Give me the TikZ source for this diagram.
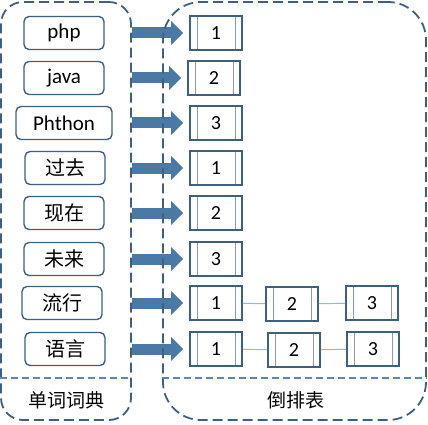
\documentclass[tikz,border=0pt]{standalone}
\usepackage{fontspec}
\setmainfont{Carlito}
\newfontfamily\cjk{Noto Sans CJK SC}
\usetikzlibrary{arrows.meta,backgrounds}

\definecolor{frameblue}{HTML}{3E5F7E}
\definecolor{arrowblue}{HTML}{4A79A5}
\definecolor{sepblue}{HTML}{5A86B4}
\definecolor{linkblue}{HTML}{9AB7D3}
\definecolor{innergrey}{HTML}{8A9BAE}

\tikzset{
  container/.style={draw=frameblue, line width=1.8pt, dash pattern=on 10pt off 5pt, rounded corners=#1},
  wordbox/.style={draw=frameblue, line width=1.4pt, rounded corners=5pt, minimum width=80pt,
    minimum height=33pt, inner sep=0pt, font=\fontsize{21}{23}\selectfont},
  cjkword/.style={wordbox, font=\cjk\fontsize{20}{22}\selectfont},
  numbox/.style={draw=frameblue, line width=1.6pt, minimum width=52pt, minimum height=34pt,
    inner sep=0pt, font=\fontsize{20}{22}\selectfont,
    path picture={
      \draw[innergrey, line width=1pt] ([xshift=7pt]path picture bounding box.south west) -- ([xshift=7pt]path picture bounding box.north west);
      \draw[innergrey, line width=1pt] ([xshift=-7pt]path picture bounding box.south east) -- ([xshift=-7pt]path picture bounding box.north east);
    }},
  bigarrow/.style={draw=arrowblue, line width=11pt, -{Triangle[length=12pt,width=23pt,fill=arrowblue]}, shorten >=6pt},
  link/.style={draw=linkblue, line width=1pt},
  separator/.style={draw=sepblue, line width=1.5pt, dash pattern=on 7pt off 4pt},
  tag/.style={font=\cjk\fontsize{19}{21}\selectfont},
}

\begin{document}
\begin{tikzpicture}[x=1pt, y=-1pt]
    \useasboundingbox (0,0) rectangle (428,425);

    % Containers
    \node[container=22pt, minimum width=130pt, minimum height=418pt] (dict) at (66,211) {};
    \node[container=38pt, minimum width=263pt, minimum height=418pt] (inv) at (294.5,211) {};
    \coordinate (sep) at (0,378);
    \draw[separator] (dict.west |- sep) -- (dict.east |- sep);
    \draw[separator] (inv.west |- sep) -- (inv.east |- sep);
    \node[tag] (dictlabel) at (66,400) {单词词典};
    \node[tag] (invlabel) at (296,400) {倒排表};

    % Words
    \node[wordbox] (w1) at (64,33) {php};
    \node[wordbox] (w2) at (64,78) {java};
    \node[wordbox, minimum width=96pt] (w3) at (64,123) {Phthon};
    \node[cjkword] (w4) at (65,168) {过去};
    \node[cjkword] (w5) at (64,213) {现在};
    \node[cjkword] (w6) at (64,259) {未来};
    \node[cjkword] (w7) at (62,303) {流行};
    \node[cjkword] (w8) at (65,349) {语言};

    % Posting lists
    \node[numbox] (n1) at (216,33) {1};
    \node[numbox] (n2) at (214,78) {2};
    \node[numbox] (n3) at (216,123) {3};
    \node[numbox] (n4) at (216,168) {1};
    \node[numbox] (n5) at (216,213) {2};
    \node[numbox] (n6) at (216,259) {3};
    \node[numbox] (n7) at (216,303) {1};
    \node[numbox] (n8) at (216,349) {1};
    \node[numbox] (n7b) at (292,304) {2};
    \node[numbox] (n7c) at (372,303) {3};
    \node[numbox] (n8b) at (294,350) {2};
    \node[numbox] (n8c) at (373,349) {3};
    \draw[link] (n7) -- (n7b) -- (n7c);
    \draw[link] (n8) -- (n8b) -- (n8c);

    % Arrows from dictionary to lists
    \begin{scope}[on background layer]
        \foreach \i in {1,...,8}
            \draw[bigarrow] (dict.east |- n\i) -- (n\i.west);
    \end{scope}
\end{tikzpicture}
\end{document}
